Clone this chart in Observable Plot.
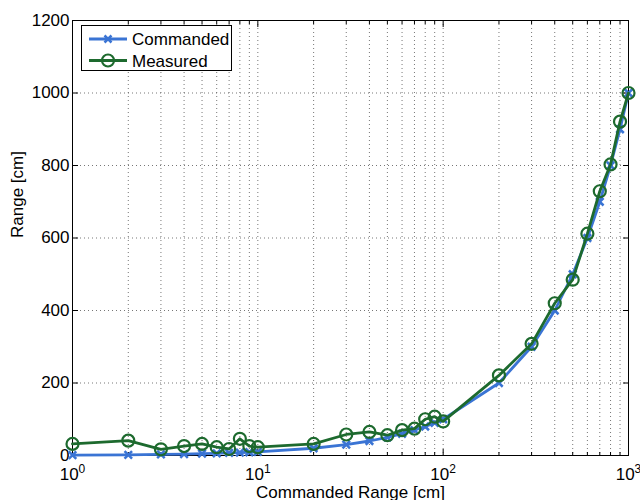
<!DOCTYPE html>
<html>
<head>
<meta charset="utf-8">
<script src="https://cdn.jsdelivr.net/npm/d3@7"></script>
<script src="https://cdn.jsdelivr.net/npm/@observablehq/plot@0.6"></script>
<style>
  html, body { margin: 0; padding: 0; background: #fff; }
  #wrap { position: relative; width: 640px; height: 500px; font-family: "Liberation Sans", Arial, Helvetica, sans-serif; }
  #legend { position: absolute; left: 81px; top: 25px; }
</style>
</head>
<body>
<div id="wrap">
  <div id="chart"></div>
  <div id="legend"></div>
</div>
<script>
// Commanded range set points (cm)
const commandedRange = [1, 2, 3, 4, 5, 6, 7, 8, 9, 10, 20, 30, 40, 50, 60, 70, 80, 90, 100, 200, 300, 400, 500, 600, 700, 800, 900, 1000];
// Commanded series (cm)
const commandedValues = [1, 2, 3, 4, 5, 6, 7, 8, 9, 10, 20, 30, 40, 50, 60, 70, 80, 90, 100, 200, 300, 400, 500, 600, 700, 800, 900, 1000];
// Measured series (cm)
const measuredValues = [32, 41, 17, 26, 32, 23, 18, 46, 26, 23, 32, 58, 65, 56, 70, 74, 100, 107, 94, 221, 308, 420, 485, 612, 729, 803, 921, 1000];

const seriesNames = ["Commanded", "Measured"];
const seriesColors = ["#3a74d4", "#1d6a2e"];

// Axis ticks
const xMajorTicks = [1, 10, 100, 1000];
const xMinorSteps = [2, 3, 4, 5, 6, 7, 8, 9];
const yTicks = [0, 200, 400, 600, 800, 1000, 1200];
const xLabel = "Commanded Range [cm]";
const yLabel = "Range [cm]";

const xMinorTicks = xMajorTicks.slice(0, -1).flatMap(d => xMinorSteps.map(s => d * s));
const xGridTicks = [...xMinorTicks, 10, 100].sort((a, b) => a - b);

const commanded = commandedRange.map((x, i) => ({x, y: commandedValues[i]}));
const measured = commandedRange.map((x, i) => ({x, y: measuredValues[i]}));

const gridStyle = {stroke: "#555", strokeOpacity: 0.8, strokeWidth: 1, strokeDasharray: "1,3"};
const blank = () => "";
const superDigits = "⁰¹²³⁴⁵⁶⁷⁸⁹";
const decadeLabel = d => "10" + superDigits[Math.round(Math.log10(d))];

const chart = Plot.plot({
  width: 640,
  height: 500,
  marginLeft: 72,
  marginRight: 12,
  marginTop: 20,
  marginBottom: 45,
  style: {fontFamily: "'Liberation Sans', Arial, Helvetica, sans-serif", fontSize: "17px", background: "#fff", color: "#000"},
  x: {type: "log", domain: [1, 1000]},
  y: {domain: [0, 1200]},
  marks: [
    // dotted grid
    Plot.gridX(xGridTicks, gridStyle),
    Plot.gridY(yTicks.slice(1, -1), gridStyle),
    // inward tick marks on all four sides
    Plot.axisX({anchor: "bottom", ticks: xMinorTicks, tickSize: -3, tickFormat: blank, label: null}),
    Plot.axisX({anchor: "top", ticks: xMinorTicks, tickSize: -3, tickFormat: blank, label: null}),
    Plot.axisX({anchor: "bottom", ticks: xMajorTicks, tickSize: -6, tickFormat: blank, label: null}),
    Plot.axisX({anchor: "top", ticks: xMajorTicks, tickSize: -6, tickFormat: blank, label: null}),
    Plot.axisY({anchor: "left", ticks: yTicks, tickSize: -6, tickFormat: blank, label: null}),
    Plot.axisY({anchor: "right", ticks: yTicks, tickSize: -6, tickFormat: blank, label: null}),
    // tick labels
    Plot.axisX({anchor: "bottom", ticks: xMajorTicks, tickSize: 0, tickPadding: 12, tickFormat: decadeLabel, label: null}),
    Plot.axisY({anchor: "left", ticks: yTicks, tickSize: 0, tickPadding: 3, tickFormat: d => String(d), label: null}),
    Plot.frame({stroke: "#000", strokeWidth: 1}),
    // axis titles
    Plot.text([xLabel], {frameAnchor: "bottom", text: d => d, dy: 42, lineAnchor: "bottom", fontSize: 17}),
    Plot.text([yLabel], {frameAnchor: "left", text: d => d, dx: -50, rotate: -90, lineAnchor: "bottom", fontSize: 17}),
    // series
    Plot.line(commanded, {x: "x", y: "y", stroke: seriesColors[0], strokeWidth: 2.8}),
    Plot.dot(commanded, {x: "x", y: "y", symbol: "times", r: 3.5, stroke: seriesColors[0], strokeWidth: 2.5}),
    Plot.line(measured, {x: "x", y: "y", stroke: seriesColors[1], strokeWidth: 2.8}),
    Plot.dot(measured, {x: "x", y: "y", symbol: "circle", r: 6, fill: "none", stroke: seriesColors[1], strokeWidth: 2.2})
  ]
});

// write the decade labels as 10 with a smaller raised exponent
d3.select(chart).selectAll("text").each(function () {
  const t = d3.select(this);
  const m = /^10([⁰¹²³⁴⁵⁶⁷⁸⁹])$/.exec(t.text().trim());
  if (!m) return;
  t.text("10");
  t.append("tspan").attr("dy", "-0.55em").attr("font-size", 12).text(String(superDigits.indexOf(m[1])));
});

document.getElementById("chart").append(chart);

// legend box
const lg = d3.select("#legend").append("svg")
  .attr("width", 152).attr("height", 47)
  .style("font-family", "'Liberation Sans', Arial, Helvetica, sans-serif");
lg.append("rect").attr("x", 0.5).attr("y", 0.5).attr("width", 150).attr("height", 45)
  .attr("fill", "#fff").attr("stroke", "#000");
seriesNames.forEach((name, i) => {
  const cy = 14 + i * 21.5;
  const g = lg.append("g");
  g.append("line").attr("x1", 8).attr("x2", 46).attr("y1", cy).attr("y2", cy)
    .attr("stroke", seriesColors[i]).attr("stroke-width", 2.8);
  if (i === 0) {
    g.append("path").attr("d", `M23.5,${cy - 3.5}L30.5,${cy + 3.5}M23.5,${cy + 3.5}L30.5,${cy - 3.5}`)
      .attr("stroke", seriesColors[i]).attr("stroke-width", 2.5);
  } else {
    g.append("circle").attr("cx", 27).attr("cy", cy).attr("r", 6)
      .attr("fill", "none").attr("stroke", seriesColors[i]).attr("stroke-width", 2.2);
  }
  g.append("text").attr("x", 51).attr("y", cy + 6).attr("font-size", 17).attr("fill", "#000").text(name);
});
</script>
</body>
</html>
